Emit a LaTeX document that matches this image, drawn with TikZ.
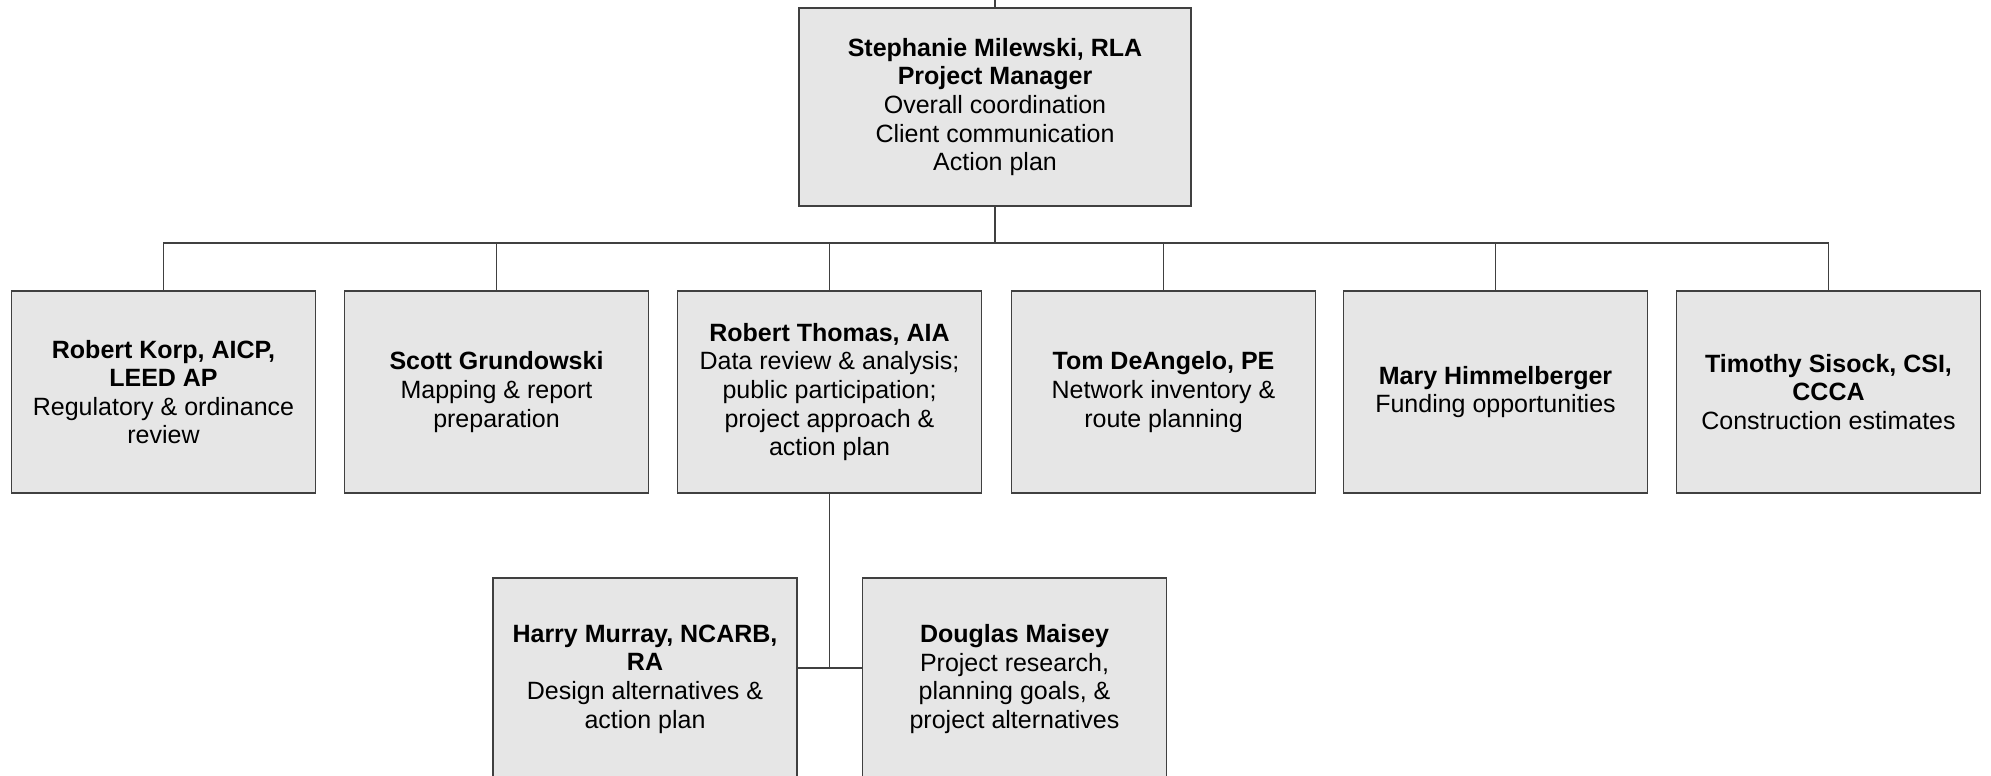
\documentclass[tikz,border=0pt]{standalone}
\usepackage{fontspec}
\setmainfont{Liberation Sans}
\usetikzlibrary{positioning}
\definecolor{boxgray}{RGB}{230,230,230}
\definecolor{linegray}{RGB}{64,64,64}

\begin{document}
\begin{tikzpicture}[x=0.5pt,y=-0.5pt,
        person/.style={draw=linegray,fill=boxgray,line width=0.7pt,minimum width=152pt,minimum height=101pt,
          align=center,inner sep=2pt,font=\fontsize{12.5}{14.3}\selectfont},
        link/.style={draw=linegray,line width=0.7pt},
        ]
        \useasboundingbox (0,0) rectangle (1991,776);
        \clip (0,0) rectangle (1991,776);
        % project manager
        \node[person,minimum width=196pt,minimum height=99pt] (milewski) at (995,107)
          {\textbf{Stephanie Milewski, RLA}\\\textbf{Project Manager}\\Overall coordination\\Client communication\\Action plan};
        % team row
        \node[person] (korp) at (163.5,392) {\textbf{Robert Korp, AICP,}\\\textbf{LEED AP}\\Regulatory \& ordinance\\review};
        \node[person] (grundowski) at (496.5,392) {\textbf{Scott Grundowski}\\Mapping \& report\\preparation};
        \node[person] (thomas) at (829.5,392) {\textbf{Robert Thomas, AIA}\\Data review \& analysis;\\public participation;\\project approach \&\\action plan};
        \node[person] (deangelo) at (1163.5,392) {\textbf{Tom DeAngelo, PE}\\Network inventory \&\\route planning};
        \node[person] (himmelberger) at (1495.5,392) {\textbf{Mary Himmelberger}\\Funding opportunities};
        \node[person] (sisock) at (1828.5,392) {\textbf{Timothy Sisock, CSI,}\\\textbf{CCCA}\\Construction estimates};
        % under thomas
        \node[person] (murray) at (645,679) {\textbf{Harry Murray, NCARB,}\\\textbf{RA}\\Design alternatives \&\\action plan};
        \node[person] (maisey) at (1014.5,679) {\textbf{Douglas Maisey}\\Project research,\\planning goals, \&\\project alternatives};
        % connectors
        \coordinate (feed) at (995,0);
        \coordinate (bus) at (995,243);
        \coordinate (split) at (829.5,668);
        \draw[link] (feed) -- (milewski.north);
        \draw[link] (milewski.south) -- (bus);
        \foreach \n in {korp,grundowski,thomas,deangelo,himmelberger,sisock}
          \draw[link] (bus) -| (\n.north);
        \draw[link] (thomas.south) -- (split);
        \draw[link] (split -| murray.east) -- (split -| maisey.west);
      \end{tikzpicture}
\end{document}
